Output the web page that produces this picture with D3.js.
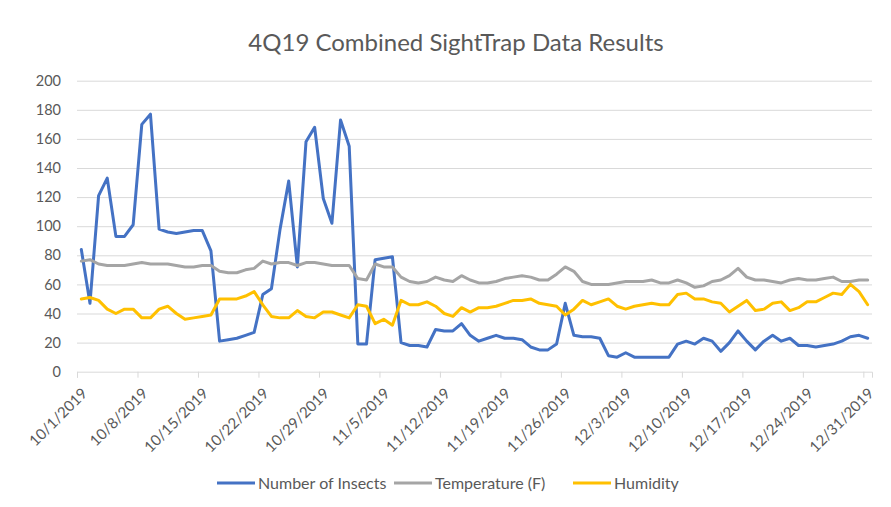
<!DOCTYPE html>
<html>
<head>
<meta charset="utf-8">
<script src="https://cdn.jsdelivr.net/npm/d3@7"></script>
<style>
  body { margin: 0; background: #fff; }
  svg { display: block; font-family: Lato, "Open Sans", sans-serif; }
</style>
</head>
<body>
<div class="canvas"></div>
<script>
// daily readings, 10/1/2019 .. 12/31/2019
const insects = [84,47,121,133,93,93,101,170,177,98,96,95,96,97,97,83,21,22,23,25,
  27,53,57,98,131,72,158,168,119,102,173,155,19,19,77,78,79,20,18,18,
  17,29,28,28,33,25,21,23,25,23,23,22,17,15,15,19,47,25,24,24,
  23,11,10,13,10,10,10,10,10,19,21,19,23,21,14,20,28,21,15,21,
  25,21,23,18,18,17,18,19,21,24,25,23];
const temperature = [76,77,74,73,73,73,74,75,74,74,74,73,72,72,73,73,69,68,68,70,
  71,76,74,75,75,73,75,75,74,73,73,73,64,63,74,72,72,65,62,61,
  62,65,63,62,66,63,61,61,62,64,65,66,65,63,63,67,72,69,62,60,
  60,60,61,62,62,62,63,61,61,63,61,58,59,62,63,66,71,65,63,63,
  62,61,63,64,63,63,64,65,62,62,63,63];
const humidity = [50,51,49,43,40,43,43,37,37,43,45,40,36,37,38,39,50,50,50,52,
  55,46,38,37,37,42,38,37,41,41,39,37,46,45,33,36,32,49,46,46,
  48,45,40,38,44,41,44,44,45,47,49,49,50,47,46,45,39,43,49,46,
  48,50,45,43,45,46,47,46,46,53,54,50,50,48,47,41,45,49,42,43,
  47,48,42,44,48,48,51,54,53,60,55,46];

const dates = d3.timeDay.range(new Date(2019, 9, 1), new Date(2020, 0, 1));
const tickLabels = ["10/1/2019","10/8/2019","10/15/2019","10/22/2019","10/29/2019","11/5/2019",
  "11/12/2019","11/19/2019","11/26/2019","12/3/2019","12/10/2019","12/17/2019","12/24/2019","12/31/2019"];
const yTicks = [0,20,40,60,80,100,120,140,160,180,200];

const seriesNames = ["Number of Insects", "Temperature (F)", "Humidity"];
const seriesColours = ["#4472c4", "#a5a5a5", "#ffc000"];

const dims = { width: 891, height: 507 };
const plot = { left: 77, right: 872, top: 80.7, bottom: 371.7 };

const svg = d3.select(".canvas").append("svg")
  .attr("width", dims.width)
  .attr("height", dims.height);

svg.append("rect").attr("width", dims.width).attr("height", dims.height).attr("fill", "#fff");

const x = d3.scaleTime()
  .domain([new Date(2019, 9, 1), new Date(2020, 0, 1)])
  .range([plot.left, plot.right]);
const y = d3.scaleLinear().domain([0, 200]).range([plot.bottom, plot.top]);

//title
svg.append("text")
  .attr("x", 456).attr("y", 51)
  .attr("text-anchor", "middle")
  .attr("fill", "#595959")
  .style("font-size", "24px")
  .text("4Q19 Combined SightTrap Data Results");

//gridlines
const grid = svg.append("g")
  .attr("transform", `translate(${plot.left},0)`)
  .call(d3.axisLeft(y).tickValues(yTicks.slice(1)).tickSize(-(plot.right - plot.left)).tickFormat(""));
grid.select(".domain").remove();
grid.selectAll("line").attr("stroke", "#d9d9d9").attr("stroke-width", 1);

//y labels
const yAxis = svg.append("g")
  .attr("transform", `translate(${plot.left},0)`)
  .call(d3.axisLeft(y).tickValues(yTicks).tickSize(0).tickPadding(16));
yAxis.select(".domain").remove();
yAxis.selectAll("text")
  .attr("fill", "#595959")
  .style("font-size", "14.5px")
  .style("font-family", "Lato, sans-serif");

//x axis
const tickDates = tickLabels.map((s) => d3.timeParse("%m/%d/%Y")(s));
const xAxis = svg.append("g")
  .attr("transform", `translate(0,${plot.bottom})`)
  .call(d3.axisBottom(x).tickValues(tickDates).tickSize(6).tickFormat((d, i) => tickLabels[i]));
xAxis.select(".domain").attr("stroke", "#d9d9d9").attr("stroke-width", 1);
xAxis.selectAll(".tick line").attr("stroke", "#d9d9d9");
xAxis.selectAll("text")
  .attr("fill", "#595959")
  .style("font-size", "15px")
  .style("font-family", "Lato, sans-serif")
  .attr("text-anchor", "end")
  .attr("dy", "0.35em")
  .attr("y", 0)
  .attr("transform", "translate(7,19) rotate(-45)");

//lines
const mid = (d) => x(d3.timeHour.offset(d, 12));
const allSeries = [insects, temperature, humidity];
const line = d3.line()
  .x((d, i) => mid(dates[i]))
  .y((d) => y(d));

svg.append("g").selectAll("path")
  .data(allSeries)
  .enter().append("path")
  .attr("d", (d) => line(d))
  .attr("fill", "none")
  .attr("stroke", (d, i) => seriesColours[i])
  .attr("stroke-width", 3)
  .attr("stroke-linejoin", "round")
  .attr("stroke-linecap", "round");

//legend
const legendX = [217, 394, 573];
const legend = svg.append("g").selectAll("g")
  .data(seriesNames)
  .enter().append("g")
  .attr("transform", (d, i) => `translate(${legendX[i]},483)`);
legend.append("line")
  .attr("x1", 0).attr("x2", 38)
  .attr("stroke", (d, i) => seriesColours[i])
  .attr("stroke-width", 3);
legend.append("text")
  .attr("x", 41).attr("y", 5.5)
  .attr("fill", "#595959")
  .style("font-size", "16px")
  .text((d) => d);
</script>
</body>
</html>
